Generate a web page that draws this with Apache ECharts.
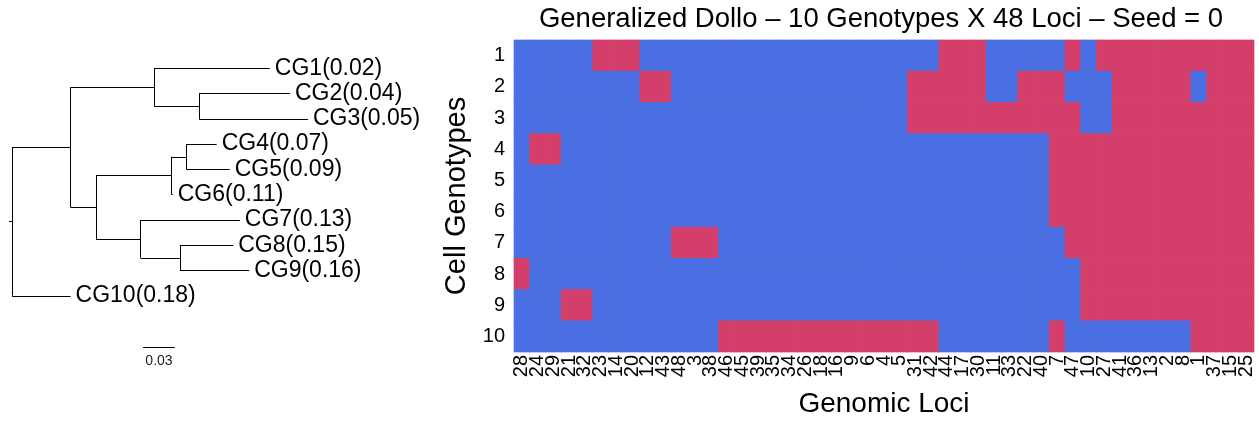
<!DOCTYPE html>
<html>
<head>
<meta charset="utf-8">
<script src="https://cdn.jsdelivr.net/npm/echarts@6/dist/echarts.min.js"></script>
<style>
  html, body { margin: 0; padding: 0; background: #ffffff; }
  #chart { width: 1259px; height: 423px; }
</style>
</head>
<body>
<div id="chart"></div>
<script>
// ---- Data -------------------------------------------------------------
// Column order of the genomic loci (as clustered)
const locusLabels = ['28','24','29','21','32','23','14','20','12','43','48','3','38','46','45','39','35','34','26','18','16','9','6','4','5','31','42','44','17','30','11','33','22','40','7','47','10','27','41','36','13','2','8','1','37','15','25'];

// Cell genotype row names (top to bottom)
const genotypeLabels = ['1','2','3','4','5','6','7','8','9','10'];

// Mutation state per genotype (1 = mutated, 0 = absent), one value per locus column
const genotype1  = [0,0,0,0,0,1,1,1,0,0, 0,0,0,0,0,0,0,0,0,0, 0,0,0,0,0,0,0,1,1,1, 0,0,0,0,0,1,0,1,1,1, 1,1,1,1,1,1,1];
const genotype2  = [0,0,0,0,0,0,0,0,1,1, 0,0,0,0,0,0,0,0,0,0, 0,0,0,0,0,1,1,1,1,1, 0,0,1,1,1,0,0,0,1,1, 1,1,1,0,1,1,1];
const genotype3  = [0,0,0,0,0,0,0,0,0,0, 0,0,0,0,0,0,0,0,0,0, 0,0,0,0,0,1,1,1,1,1, 1,1,1,1,1,1,0,0,1,1, 1,1,1,1,1,1,1];
const genotype4  = [0,1,1,0,0,0,0,0,0,0, 0,0,0,0,0,0,0,0,0,0, 0,0,0,0,0,0,0,0,0,0, 0,0,0,0,1,1,1,1,1,1, 1,1,1,1,1,1,1];
const genotype5  = [0,0,0,0,0,0,0,0,0,0, 0,0,0,0,0,0,0,0,0,0, 0,0,0,0,0,0,0,0,0,0, 0,0,0,0,1,1,1,1,1,1, 1,1,1,1,1,1,1];
const genotype6  = [0,0,0,0,0,0,0,0,0,0, 0,0,0,0,0,0,0,0,0,0, 0,0,0,0,0,0,0,0,0,0, 0,0,0,0,1,1,1,1,1,1, 1,1,1,1,1,1,1];
const genotype7  = [0,0,0,0,0,0,0,0,0,0, 1,1,1,0,0,0,0,0,0,0, 0,0,0,0,0,0,0,0,0,0, 0,0,0,0,0,1,1,1,1,1, 1,1,1,1,1,1,1];
const genotype8  = [1,0,0,0,0,0,0,0,0,0, 0,0,0,0,0,0,0,0,0,0, 0,0,0,0,0,0,0,0,0,0, 0,0,0,0,0,0,1,1,1,1, 1,1,1,1,1,1,1];
const genotype9  = [0,0,0,1,1,0,0,0,0,0, 0,0,0,0,0,0,0,0,0,0, 0,0,0,0,0,0,0,0,0,0, 0,0,0,0,0,0,1,1,1,1, 1,1,1,1,1,1,1];
const genotype10 = [0,0,0,0,0,0,0,0,0,0, 0,0,0,1,1,1,1,1,1,1, 1,1,1,1,1,1,1,0,0,0, 0,0,0,0,1,0,0,0,0,0, 0,0,0,1,1,1,1];
const genotypeRows = [genotype1, genotype2, genotype3, genotype4, genotype5,
                      genotype6, genotype7, genotype8, genotype9, genotype10];

// Tree leaves, in drawing order top to bottom
const leafLabels = ['CG1(0.02)','CG2(0.04)','CG3(0.05)','CG4(0.07)','CG5(0.09)',
                    'CG6(0.11)','CG7(0.13)','CG8(0.15)','CG9(0.16)','CG10(0.18)'];

// Tree topology: each node is [branchLength, leafIndex | children]
const genotypeTree = [0.003, [
  [0.0553, [
    [0.0792, [
      [0.1095, 0],
      [0.0425, [[0.086, 1], [0.103, 2]]]
    ]],
    [0.024, [
      [0.0717, [
        [0.014, [[0.0286, 3], [0.041, 4]]],
        [0.001, 5]
      ]],
      [0.0423, [
        [0.094, 6],
        [0.0372, [[0.0505, 7], [0.0656, 8]]]
      ]]
    ]]
  ]],
  [0.0553, 9]
]];

// Scale bar for branch lengths
const scaleBarLength = 0.03;
const scaleBarStart = 0.124;
const scaleBarLabel = '0.03';

// ---- Tree layout (rectangular cladogram) ------------------------------
const treeSegments = [];
const treeLeaves = [];
function layoutTree(node, parentDepth) {
  const len = node[0], sub = node[1];
  const depth = parentDepth + len;
  let y;
  if (Array.isArray(sub)) {
    const ys = sub.map(function (ch) { return layoutTree(ch, depth); });
    const y0 = ys[0], y1 = ys[ys.length - 1];
    y = (y0 + y1) / 2;
    treeSegments.push({ coords: [[depth, y0], [depth, y1]] });
  } else {
    y = sub;
    treeLeaves.push([depth, y, leafLabels[sub]]);
  }
  treeSegments.push({ coords: [[parentDepth, y], [depth, y]] });
  return y;
}
layoutTree(genotypeTree, -genotypeTree[0]);

const scaleY = 11.04;
const scaleSegment = [{ coords: [[scaleBarStart, scaleY], [scaleBarStart + scaleBarLength, scaleY]] }];

// ---- Heatmap cells -----------------------------------------------------
const heatData = [];
genotypeRows.forEach(function (row, r) {
  row.forEach(function (v, c) { heatData.push([c, r, v]); });
});

// Cells are drawn as slightly overlapping rects so no seams show between them
function renderCell(params, api) {
  const c = api.coord([api.value(0), api.value(1)]);
  const s = api.size([1, 1]);
  return {
    type: 'rect',
    shape: { x: c[0] - s[0] / 2 - 0.35, y: c[1] - s[1] / 2 - 0.35, width: s[0] + 0.7, height: s[1] + 0.7 },
    style: { fill: api.visual('color') }
  };
}

// ---- Chart -------------------------------------------------------------
const FONT = '"Liberation Sans", Arial, Helvetica, sans-serif';
const chart = echarts.init(document.getElementById('chart'), null, { renderer: 'canvas' });

chart.setOption({
  animation: false,
  backgroundColor: '#ffffff',
  title: {
    text: 'Generalized Dollo \u2013 10 Genotypes X 48 Loci \u2013 Seed = 0',
    left: 876,
    top: 0,
    textAlign: 'center',
    textStyle: { fontFamily: FONT, fontSize: 27.5, fontWeight: 'normal', color: '#000' }
  },
  grid: [
    { left: 514, top: 40, width: 740, height: 315, containLabel: false },
    { left: 9, top: 68.3, width: 320, height: 303.3, containLabel: false }
  ],
  xAxis: [
    {
      gridIndex: 0,
      type: 'category',
      data: locusLabels,
      name: 'Genomic Loci',
      nameLocation: 'middle',
      nameGap: 38,
      nameTextStyle: { fontFamily: FONT, fontSize: 28, color: '#000' },
      axisLine: { show: false },
      axisTick: { show: false },
      splitLine: { show: false },
      axisLabel: { interval: 0, rotate: 90, margin: 3, fontFamily: FONT, fontSize: 20, color: '#000' }
    },
    {
      gridIndex: 1, type: 'value', min: -0.003, max: 0.3, show: false
    }
  ],
  yAxis: [
    {
      gridIndex: 0,
      type: 'category',
      data: genotypeLabels,
      inverse: true,
      name: 'Cell Genotypes',
      nameLocation: 'middle',
      nameRotate: 90,
      nameGap: 38,
      nameTextStyle: { fontFamily: FONT, fontSize: 29, color: '#000' },
      axisLine: { show: false },
      axisTick: { show: false },
      splitLine: { show: false },
      axisLabel: { margin: 9, fontFamily: FONT, fontSize: 20, color: '#000' }
    },
    {
      gridIndex: 1, type: 'value', min: 0, max: 12, inverse: true, show: false
    }
  ],
  visualMap: {
    type: 'piecewise',
    show: false,
    seriesIndex: 0,
    dimension: 2,
    pieces: [
      { value: 0, color: '#4A6FE3' },
      { value: 1, color: '#D33F6A' }
    ]
  },
  series: [
    {
      type: 'custom',
      xAxisIndex: 0,
      yAxisIndex: 0,
      data: heatData,
      encode: { x: 0, y: 1 },
      renderItem: renderCell,
      silent: true
    },
    {
      type: 'lines',
      coordinateSystem: 'cartesian2d',
      xAxisIndex: 1,
      yAxisIndex: 1,
      data: treeSegments.concat(scaleSegment),
      lineStyle: { color: '#000', width: 1, opacity: 1 },
      silent: true
    },
    {
      type: 'scatter',
      xAxisIndex: 1,
      yAxisIndex: 1,
      symbolSize: 0,
      itemStyle: { opacity: 1 },
      data: treeLeaves,
      label: {
        show: true,
        position: 'right',
        distance: 5,
        formatter: function (p) { return p.value[2]; },
        fontFamily: FONT,
        fontSize: 23,
        color: '#000',
        opacity: 1
      },
      silent: true
    },
    {
      type: 'scatter',
      xAxisIndex: 1,
      yAxisIndex: 1,
      symbolSize: 0,
      itemStyle: { opacity: 1 },
      data: [[scaleBarStart + scaleBarLength / 2, 11.57, scaleBarLabel]],
      label: {
        show: true,
        position: 'inside',
        formatter: function (p) { return p.value[2]; },
        fontFamily: FONT,
        fontSize: 14,
        color: '#222',
        opacity: 1
      },
      silent: true
    }
  ]
});
</script>
</body>
</html>
